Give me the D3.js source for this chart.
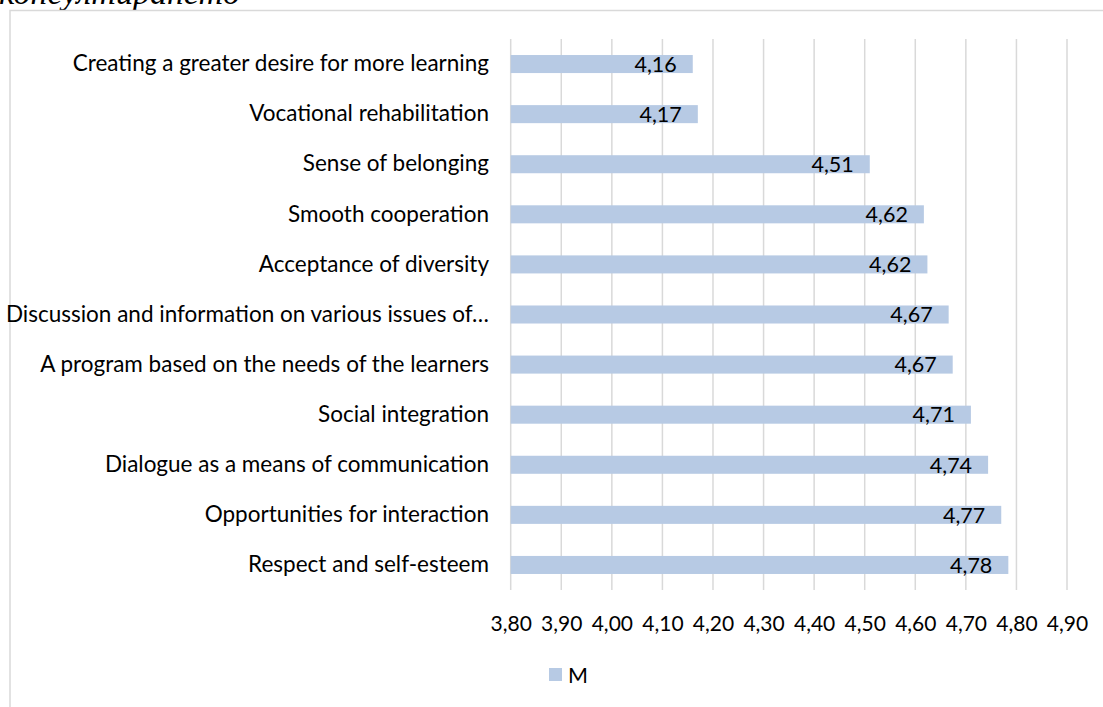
<!DOCTYPE html>
<html>
<head>
<meta charset="utf-8">
<script src="https://cdn.jsdelivr.net/npm/d3@7"></script>
<style>
  html, body { margin: 0; padding: 0; background: #fff; }
  svg { display: block; }
</style>
</head>
<body>
<svg id="chart" width="1103" height="707"></svg>
<script>
// ---- data ----
const categories = [
  "Creating a greater desire for more learning",
  "Vocational rehabilitation",
  "Sense of belonging",
  "Smooth cooperation",
  "Acceptance of diversity",
  "Discussion and information on various issues of…",
  "A program based on the needs of the learners",
  "Social integration",
  "Dialogue as a means of communication",
  "Opportunities for interaction",
  "Respect and self-esteem"
];
const values = [4.16, 4.17, 4.51, 4.617, 4.624, 4.666, 4.674, 4.71, 4.744, 4.77, 4.784];
const tickValues = [3.8, 3.9, 4.0, 4.1, 4.2, 4.3, 4.4, 4.5, 4.6, 4.7, 4.8, 4.9];
const seriesName = "M";
const captionText = "консултирането";

// ---- layout ----
const svg = d3.select("#chart");
const plot = { left: 510.7, right: 1067, top: 39, bottom: 590 };
const barColor = "#b7cae4";
const gridColor = "#d9d9d9";
const font = "Lato, 'Open Sans', sans-serif";
const fmt = v => v.toFixed(2).replace(".", ",");

// caption (cropped at top, as in the reference)
svg.append("text")
  .attr("x", -1).attr("y", 4)
  .attr("font-family", "'Liberation Serif', 'DejaVu Serif', serif")
  .attr("font-style", "italic")
  .attr("font-size", 34)
  .attr("fill", "#000")
  .text(captionText);

// chart frame
svg.append("rect")
  .attr("x", 10).attr("y", 10.5)
  .attr("width", 1200).attr("height", 1000)
  .attr("fill", "none")
  .attr("stroke", gridColor)
  .attr("stroke-width", 1.5);

const x = d3.scaleLinear().domain([3.8, 4.9]).range([plot.left, plot.right]);
const y = d3.scaleBand().domain(categories).range([plot.top, plot.bottom]).paddingInner(0.64).paddingOuter(0.32);

// gridlines
svg.append("g").selectAll("line").data(tickValues).join("line")
  .attr("x1", d => x(d)).attr("x2", d => x(d))
  .attr("y1", plot.top).attr("y2", plot.bottom)
  .attr("stroke", gridColor).attr("stroke-width", 1.5);

// x tick labels via axis
const xAxis = d3.axisBottom(x).tickValues(tickValues).tickFormat(fmt).tickSize(0).tickPadding(0);
const gx = svg.append("g").attr("transform", `translate(0, 616)`).call(xAxis);
gx.select(".domain").remove();
gx.selectAll("text")
  .attr("font-family", font).attr("font-size", 21).attr("fill", "#000")
  .attr("dy", "0.71em");

// y category labels via axis
const yAxis = d3.axisLeft(y).tickSize(0).tickPadding(0);
const gy = svg.append("g").attr("transform", `translate(489, 0)`).call(yAxis);
gy.select(".domain").remove();
gy.selectAll("text")
  .attr("font-family", font).attr("font-size", 22.5).attr("fill", "#000");

// bars
svg.append("g").selectAll("rect").data(values).join("rect")
  .attr("x", x(3.8))
  .attr("y", (d, i) => y(categories[i]))
  .attr("width", d => x(d) - x(3.8))
  .attr("height", y.bandwidth())
  .attr("fill", barColor);

// data labels (inside end)
svg.append("g").selectAll("text").data(values).join("text")
  .attr("x", d => x(d) - 16)
  .attr("y", (d, i) => y(categories[i]) + y.bandwidth() / 2)
  .attr("dy", "0.36em")
  .attr("text-anchor", "end")
  .attr("font-family", font).attr("font-size", 21.5).attr("fill", "#000")
  .text(fmt);

// legend
const lg = svg.append("g");
lg.append("rect").attr("x", 549).attr("y", 668).attr("width", 13).attr("height", 13).attr("fill", barColor);
lg.append("text").attr("x", 568).attr("y", 683)
  .attr("font-family", font).attr("font-size", 21.5).attr("fill", "#000")
  .text(seriesName);
</script>
</body>
</html>
